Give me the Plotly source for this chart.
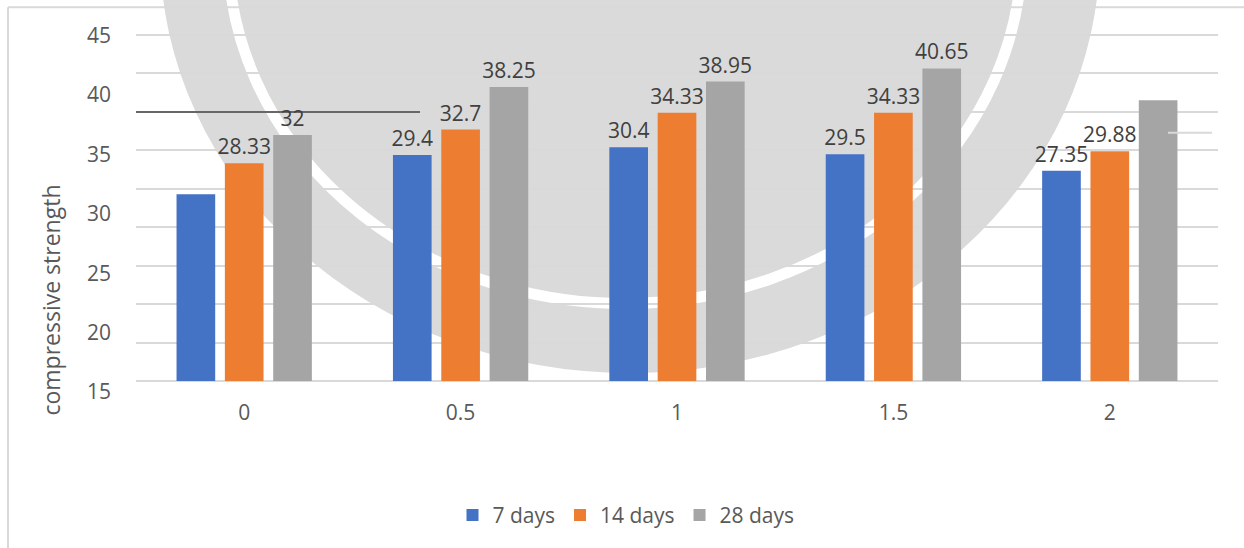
import plotly.graph_objects as go

# ---------------- data ----------------
categories = ["0", "0.5", "1", "1.5", "2"]
series_names = ["7 days", "14 days", "28 days"]
days7 = [24.3, 29.4, 30.4, 29.5, 27.35]
days14 = [28.33, 32.7, 34.9, 34.9, 29.88]
days28 = [32.0, 38.25, 38.95, 40.65, 36.5]
labels7 = ["", "29.4", "30.4", "29.5", "27.35"]
labels14 = ["28.33", "32.7", "34.33", "34.33", "29.88"]
labels28 = ["32", "38.25", "38.95", "40.65", ""]
y_tick_text = ["45", "40", "35", "30", "25", "20", "15"]
grid_vals = [0, 5, 10, 15, 20, 25, 30, 35, 40, 45]
colors = ["#4472C4", "#ED7D31", "#A5A5A5"]

# ---------------- layout geometry ----------------
W, H = 1244, 548
L, R = 136, 1218            # plot area left/right in px
T = 33
zero_px, top_px = 383, 35   # pixel of value 0 and 45
ppu = (zero_px - top_px) / 45.0
ymin = -2.2
B = zero_px + (-ymin) * ppu
plot_h = B - T
ymax = ymin + plot_h / ppu
plot_w = R - L

def px_x(px):
    return (px - L) / plot_w

def px_y(py):
    return (B - py) / plot_h

# tick label positions (labels drawn on an offset scale as in the source image)
tick_pos = [44.9 - 7.72 * i for i in range(len(y_tick_text))]

FONT = "Open Sans"
TXT = "#595959"

fig = go.Figure()
for name, vals, labs, col in zip(series_names, [days7, days14, days28],
                                 [labels7, labels14, labels28], colors):
    fig.add_trace(go.Bar(
        x=categories, y=vals, name=name, marker_color=col,
        marker_line_width=0,
        text=labs, textposition="outside", constraintext="none",
        cliponaxis=False,
        textfont=dict(family=FONT, size=21, color="#404040"),
    ))

shapes = []
# watermark (light grey disk with white ring)
shapes.append(dict(type="circle", xref="paper", yref="paper", layer="below",
                   x0=px_x(160), x1=px_x(1100), y0=px_y(375), y1=px_y(-475),
                   fillcolor="#dadada", line=dict(width=0)))
shapes.append(dict(type="circle", xref="paper", yref="paper", layer="below",
                   x0=px_x(228), x1=px_x(1022), y0=px_y(305), y1=px_y(-405),
                   fillcolor="rgba(0,0,0,0)", line=dict(color="#ffffff", width=11)))
# chart border (left and top)
shapes.append(dict(type="line", xref="paper", yref="paper",
                   x0=px_x(8), x1=px_x(8), y0=px_y(7), y1=px_y(560),
                   line=dict(color="#d9d9d9", width=2)))
shapes.append(dict(type="line", xref="paper", yref="paper",
                   x0=px_x(8), x1=px_x(1260), y0=px_y(7), y1=px_y(7),
                   line=dict(color="#d9d9d9", width=2)))
# dark line across the first group at value 35
shapes.append(dict(type="line", xref="paper", yref="y",
                   x0=0, x1=px_x(420), y0=35, y1=35,
                   line=dict(color="#404040", width=1.5)))
# short light stroke near the right edge
shapes.append(dict(type="line", xref="paper", yref="y",
                   x0=px_x(1168), x1=px_x(1212), y0=32.3, y1=32.3,
                   line=dict(color="#d9d9d9", width=2)))

fig.update_layout(
    width=W, height=H,
    margin=dict(l=L, r=W - R, t=T, b=H - B, pad=0),
    paper_bgcolor="white", plot_bgcolor="rgba(0,0,0,0)",
    barmode="group", bargap=0.33, bargroupgap=0.2,
    font=dict(family=FONT, size=21, color=TXT),
    showlegend=True,
    legend=dict(orientation="h", x=px_x(626), xanchor="center",
                y=px_y(518), yanchor="middle",
                font=dict(family=FONT, size=21, color=TXT),
                bgcolor="rgba(0,0,0,0)", traceorder="normal"),
    shapes=shapes,
    annotations=[dict(text="compressive strength", xref="paper", yref="paper",
                      x=px_x(51), y=px_y(302), textangle=-90, showarrow=False,
                      font=dict(family=FONT, size=23, color=TXT),
                      xanchor="center", yanchor="middle")],
)

fig.update_xaxes(type="category", showgrid=False, zeroline=False, showline=False,
                 ticks="", tickfont=dict(family=FONT, size=21, color=TXT),
                 automargin=False)
fig.update_yaxes(range=[ymin, ymax], tickmode="array", tickvals=tick_pos,
                 ticktext=y_tick_text, showgrid=False, zeroline=False,
                 showline=False, ticks="", ticklabelstandoff=24,
                 tickfont=dict(family=FONT, size=21, color=TXT),
                 automargin=False,
                 minor=dict(tickmode="array", tickvals=grid_vals, showgrid=True,
                            gridcolor="#d9d9d9", gridwidth=1.5, ticks=""))

fig.write_html("out.html")
